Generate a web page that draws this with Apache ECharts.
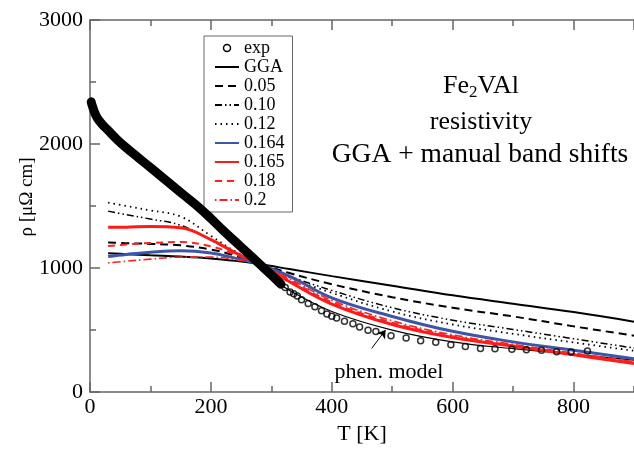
<!DOCTYPE html>
<html><head><meta charset="utf-8">
<script src="https://cdn.jsdelivr.net/npm/echarts@6/dist/echarts.min.js"></script>
<style>html,body{margin:0;padding:0;background:#fff}#c{width:634px;height:450px}</style>
</head><body><div id="c"></div>
<script>
// ---- data ----
const expBandT   = [2, 3, 5, 8, 12, 20, 30, 45, 60, 80, 100, 120, 140, 160, 180, 200, 220, 240, 260, 280, 300, 316];
const expBandRho = [2340, 2320, 2290, 2250, 2210, 2160, 2110, 2035, 1970, 1890, 1810, 1730, 1650, 1570, 1490, 1400, 1305, 1215, 1125, 1035, 945, 870];
const expT   = [323, 331, 337, 343, 350, 361, 372, 383, 392, 400, 408, 421, 435, 446, 460, 473, 498, 523, 547, 572, 597, 621, 646, 670, 698, 722, 747, 772, 796, 823];
const expRho = [843, 807, 793, 775, 745, 715, 689, 655, 630, 611, 597, 572, 551, 525, 498, 488, 454, 436, 415, 402, 381, 368, 352, 350, 345, 342, 337, 326, 324, 331];

const modelT  = [30, 60, 100, 150, 200, 240, 280, 330, 400, 500, 600, 700, 800, 900];
const rhoGGA  = [1120, 1112, 1103, 1093, 1078, 1058, 1032, 992, 935, 858, 780, 712, 645, 568];
const rho005  = [1206, 1200, 1195, 1183, 1150, 1100, 1035, 960, 870, 765, 680, 610, 530, 455];
const rho010  = [1459, 1430, 1395, 1345, 1225, 1120, 1035, 935, 820, 680, 580, 505, 430, 355];
const rho012  = [1527, 1500, 1465, 1415, 1260, 1135, 1035, 925, 800, 650, 545, 470, 400, 333];
const rho0164 = [1094, 1110, 1128, 1140, 1122, 1080, 1032, 935, 760, 610, 490, 405, 338, 268];
const rho0165 = [1329, 1330, 1335, 1325, 1230, 1125, 1030, 890, 710, 545, 440, 370, 300, 230];
const rho018  = [1177, 1190, 1202, 1210, 1175, 1110, 1032, 905, 725, 560, 450, 375, 305, 238];
const rho02   = [1042, 1055, 1072, 1088, 1088, 1070, 1030, 915, 740, 575, 462, 385, 315, 245];

const phenT   = [300, 330, 400, 500, 600, 700, 800, 900];
const phenRho = [930, 820, 650, 500, 405, 350, 305, 258];

const arrowFrom = [466, 352];
const arrowTo   = [489, 501];

const xTicks = [0, 200, 400, 600, 800];
const yTicks = [0, 1000, 2000, 3000];

// ---- build ----
const zip = (a, b) => a.map((v, i) => [v, b[i]]);
const FONT = 'Liberation Serif';
const axisCol = '#666';

function lineSeries(name, rho, color, width, type) {
  return {
    name, type: 'line', data: zip(modelT, rho), symbol: 'none', smooth: 0.4,
    lineStyle: { color, width, type }, itemStyle: { color }, z: 3
  };
}

const series = [
  { name: 'exp', type: 'scatter', data: zip(expT, expRho), symbol: 'circle', symbolSize: 6,
    itemStyle: { color: 'transparent', borderColor: '#000', borderWidth: 1.5 }, z: 5 },
  { name: 'expBand', type: 'line', data: zip(expBandT, expBandRho), symbol: 'none', smooth: 0.4,
    lineStyle: { color: '#000', width: 9, cap: 'round' }, itemStyle: { color: '#000' }, z: 4 },
  lineSeries('GGA', rhoGGA, '#000', 2, 'solid'),
  lineSeries('0.05', rho005, '#000', 2, [8, 5]),
  lineSeries('0.10', rho010, '#000', 1.5, [7, 3, 1.5, 3, 1.5, 3]),
  lineSeries('0.12', rho012, '#000', 1.8, [1.5, 4]),
  lineSeries('0.164', rho0164, '#3a56a6', 3, 'solid'),
  lineSeries('0.165', rho0165, '#ff1a1a', 3, 'solid'),
  lineSeries('0.18', rho018, '#ff2020', 2, [7, 5]),
  lineSeries('0.2', rho02, '#ff2020', 1.6, [1.5, 3, 8, 3]),
  { name: 'phen', type: 'line', data: zip(phenT, phenRho), symbol: 'none', smooth: 0.4,
    lineStyle: { color: '#000', width: 1.2 }, itemStyle: { color: '#000' }, z: 2,
    markLine: { silent: true, symbol: ['none', 'arrow'], symbolSize: 8, animation: false,
      lineStyle: { color: '#000', width: 1, type: 'solid' }, label: { show: false },
      data: [[{ coord: arrowFrom }, { coord: arrowTo }]] } }
];

const baseX = {
  type: 'value', min: 0, max: 900, interval: 200,
  axisLine: { show: true, lineStyle: { color: axisCol, width: 1.5 } },
  axisTick: { show: true, inside: true, length: 10, lineStyle: { color: axisCol, width: 1.5 } },
  splitLine: { show: false }
};

const option = {
  animation: false,
  backgroundColor: '#fff',
  grid: { left: 90, right: -4, top: 20, bottom: 47 },
  xAxis: [
    Object.assign({}, baseX, { position: 'bottom',
      axisLabel: { fontFamily: FONT, fontSize: 22, color: '#000', margin: 4, showMaxLabel: false,
        formatter: v => xTicks.includes(v) ? String(v) : '' },
      name: 'T [K]', nameLocation: 'middle', nameGap: 24,
      nameTextStyle: { fontFamily: FONT, fontSize: 22, color: '#000' } }),
    Object.assign({}, baseX, { position: 'bottom', interval: 100, axisLine: { show: false },
      axisTick: { show: true, inside: true, length: 6, lineStyle: { color: axisCol, width: 1.5 } },
      axisLabel: { show: false } }),
    Object.assign({}, baseX, { position: 'top', axisLabel: { show: false } }),
    Object.assign({}, baseX, { position: 'top', interval: 100, axisLine: { show: false },
      axisTick: { show: true, inside: true, length: 6, lineStyle: { color: axisCol, width: 1.5 } },
      axisLabel: { show: false } })
  ],
  yAxis: [{
    type: 'value', min: 0, max: 3000, interval: 1000, position: 'left',
    axisLine: { show: true, lineStyle: { color: axisCol, width: 1.5 } },
    axisTick: { show: true, inside: true, length: 10, lineStyle: { color: axisCol, width: 1.5 } },
    minorTick: { show: true, splitNumber: 2, length: 6, lineStyle: { color: axisCol, width: 1.5 } },
    axisLabel: { fontFamily: FONT, fontSize: 22, color: '#000', margin: 7,
      formatter: v => yTicks.includes(v) ? String(v) : '' },
    splitLine: { show: false }
  }],
  legend: {
    orient: 'vertical', left: 204, top: 36,
    data: [{ name: 'exp', itemStyle: { opacity: 1, borderWidth: 1.5, borderColor: '#000', color: 'transparent' } },
      'GGA', '0.05', '0.10', '0.12', '0.164', '0.165', '0.18', '0.2'],
    itemWidth: 24, itemHeight: 7, itemGap: 1,
    padding: [3, 8, 3, 10],
    borderColor: '#666', borderWidth: 1, backgroundColor: '#fff',
    itemStyle: { opacity: 0 },
    textStyle: { fontFamily: FONT, fontSize: 18, color: '#000', lineHeight: 16 },
    selectedMode: false
  },
  graphic: [
    { type: 'text', x: 27, y: 197, rotation: Math.PI / 2,
      style: { text: 'ρ [μΩ cm]', font: '19px "Liberation Serif"', fill: '#000', align: 'center', verticalAlign: 'middle' } },
    { type: 'text', x: 481, y: 86,
      style: { text: '{a|Fe}{s|2}{a|VAl}', align: 'center', verticalAlign: 'middle', fill: '#000',
        rich: { a: { fontFamily: FONT, fontSize: 26, lineHeight: 30, verticalAlign: 'middle', fill: '#000' },
                s: { fontFamily: FONT, fontSize: 17, lineHeight: 17, verticalAlign: 'bottom', fill: '#000' } } } },
    { type: 'text', x: 481, y: 122,
      style: { text: 'resistivity', font: '26px "Liberation Serif"', fill: '#000', align: 'center', verticalAlign: 'middle' } },
    { type: 'text', x: 480, y: 155,
      style: { text: 'GGA + manual band shifts', font: '27.5px "Liberation Serif"', fill: '#000', align: 'center', verticalAlign: 'middle' } },
    { type: 'text', x: 389, y: 372,
      style: { text: 'phen. model', font: '22px "Liberation Serif"', fill: '#000', align: 'center', verticalAlign: 'middle' } }
  ],
  series
};

const chart = echarts.init(document.getElementById('c'), null, { renderer: 'canvas' });
chart.setOption(option);
</script>
</body></html>
